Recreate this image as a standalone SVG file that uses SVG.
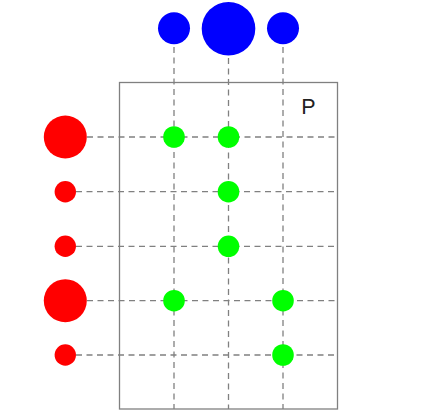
<svg xmlns="http://www.w3.org/2000/svg" width="423" height="414" viewBox="0 0 423 414">
<style>
.d{stroke:#808080;stroke-width:1.3;stroke-dasharray:6 4.5;fill:none}
.b{fill:#0000ff}
.r{fill:#ff0000}
.g{fill:#00ff00}
</style>
<rect width="423" height="414" fill="#ffffff"/>
<g id="frame"><rect x="119.5" y="82.5" width="218" height="326.5" fill="none" stroke="#808080" stroke-width="1.3"/>
<text x="301.3" y="114" font-family="Liberation Sans, Arial, sans-serif" font-size="21.5" fill="#222">P</text></g>
<g id="connectors">
<line class="d" x1="174" y1="47" x2="174" y2="409"/>
<line class="d" x1="228.5" y1="58" x2="228.5" y2="409"/>
<line class="d" x1="283" y1="47" x2="283" y2="409"/>
<line class="d" x1="87" y1="137" x2="336" y2="137"/>
<line class="d" x1="76" y1="191.7" x2="336" y2="191.7"/>
<line class="d" x1="76" y1="246.3" x2="336" y2="246.3"/>
<line class="d" x1="87" y1="300.7" x2="336" y2="300.7"/>
<line class="d" x1="76" y1="355" x2="336" y2="355"/>
</g>
<g id="col1"><circle class="b" cx="174" cy="28.3" r="16"/></g>
<g id="col2"><circle class="b" cx="228.5" cy="28.7" r="26.8"/></g>
<g id="col3"><circle class="b" cx="283" cy="28.3" r="16"/></g>
<g id="row1"><circle class="r" cx="65.3" cy="137" r="21.5"/></g>
<g id="row2"><circle class="r" cx="65.3" cy="191.7" r="10.7"/></g>
<g id="row3"><circle class="r" cx="65.3" cy="246.3" r="10.7"/></g>
<g id="row4"><circle class="r" cx="65.3" cy="300.7" r="21.5"/></g>
<g id="row5"><circle class="r" cx="65.3" cy="355" r="10.7"/></g>
<g id="cells">
<circle class="g" cx="174" cy="137" r="10.8"/>
<circle class="g" cx="228.5" cy="137" r="10.8"/>
<circle class="g" cx="228.5" cy="191.7" r="10.8"/>
<circle class="g" cx="228.5" cy="246.3" r="10.8"/>
<circle class="g" cx="174" cy="300.7" r="10.8"/>
<circle class="g" cx="283" cy="300.7" r="10.8"/>
<circle class="g" cx="283" cy="355" r="10.8"/>
</g>
</svg>
